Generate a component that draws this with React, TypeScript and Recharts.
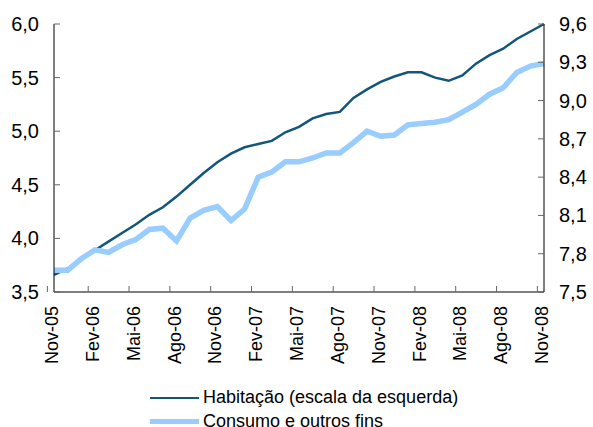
import React from "react";
import { LineChart, Line, XAxis, YAxis, Legend } from "recharts";

const months: string[] = [
  "Nov-05", "Dez-05", "Jan-06", "Fev-06", "Mar-06", "Abr-06", "Mai-06", "Jun-06", "Jul-06",
  "Ago-06", "Set-06", "Out-06", "Nov-06", "Dez-06", "Jan-07", "Fev-07", "Mar-07", "Abr-07",
  "Mai-07", "Jun-07", "Jul-07", "Ago-07", "Set-07", "Out-07", "Nov-07", "Dez-07", "Jan-08",
  "Fev-08", "Mar-08", "Abr-08", "Mai-08", "Jun-08", "Jul-08", "Ago-08", "Set-08", "Out-08", "Nov-08",
];

const habitacao: number[] = [
  3.66, 3.72, 3.81, 3.89, 3.97, 4.05, 4.13, 4.22, 4.29, 4.39, 4.5, 4.61, 4.71, 4.79, 4.85,
  4.88, 4.91, 4.99, 5.04, 5.12, 5.16, 5.18, 5.31, 5.39, 5.46, 5.51, 5.55, 5.55, 5.5, 5.47,
  5.52, 5.63, 5.71, 5.77, 5.86, 5.93, 6.0,
];

const consumo: number[] = [
  7.67, 7.67, 7.76, 7.83, 7.81, 7.87, 7.91, 7.99, 8.0, 7.9, 8.08, 8.14, 8.17, 8.06, 8.15,
  8.4, 8.44, 8.52, 8.52, 8.55, 8.59, 8.59, 8.67, 8.76, 8.72, 8.73, 8.81, 8.82, 8.83, 8.85,
  8.91, 8.97, 9.05, 9.1, 9.22, 9.27, 9.29,
];

const leftTicks: number[] = [3.5, 4.0, 4.5, 5.0, 5.5, 6.0];
const rightTicks: number[] = [7.5, 7.8, 8.1, 8.4, 8.7, 9.0, 9.3, 9.6];

const seriesNames = ["Habitação (escala da esquerda)", "Consumo e outros fins"];

const data = months.map((m, i) => ({ month: m, hab: habitacao[i], con: consumo[i] }));

const W = 593;
const H = 427;
const PLOT_LEFT = 54;
const PLOT_RIGHT = 544;
const PLOT_TOP = 24;
const PLOT_BOTTOM = 292;
const DARK = "#12567A";
const LIGHT = "#99CCFF";
const FONT = "'Liberation Sans', Arial, sans-serif";

const fmt = (v: number) => v.toFixed(1).replace(".", ",");

const LeftTick = (props: any) => {
  const { y, payload } = props;
  return (
    <g>
      <line x1={PLOT_LEFT} x2={PLOT_LEFT + 6} y1={y} y2={y} stroke="#666" strokeWidth={1} />
      <text x={PLOT_LEFT - 15} y={y} textAnchor="end" dominantBaseline="central" fontSize={20} fontFamily={FONT} fill="#000">
        {fmt(payload.value)}
      </text>
    </g>
  );
};

const RightTick = (props: any) => {
  const { y, payload } = props;
  return (
    <g>
      <line x1={PLOT_RIGHT - 6} x2={PLOT_RIGHT} y1={y} y2={y} stroke="#666" strokeWidth={1} />
      <text x={PLOT_RIGHT + 15} y={y} textAnchor="start" dominantBaseline="central" fontSize={20} fontFamily={FONT} fill="#000">
        {fmt(payload.value)}
      </text>
    </g>
  );
};

const XTick = (props: any) => {
  const { x, payload } = props;
  const bw = (PLOT_RIGHT - PLOT_LEFT) / months.length;
  const tx = x - bw / 2;
  const ly = PLOT_BOTTOM + 14;
  const lx = x - 2;
  return (
    <g>
      <line x1={tx} x2={tx} y1={PLOT_BOTTOM - 6} y2={PLOT_BOTTOM} stroke="#666" strokeWidth={1} />
      <text
        x={lx}
        y={ly}
        transform={`rotate(-90 ${lx} ${ly})`}
        textAnchor="end"
        dominantBaseline="central"
        fontSize={18}
        fontFamily={FONT}
        fill="#000"
      >
        {payload.value}
      </text>
    </g>
  );
};

const LegendContent = () => (
  <div style={{ fontFamily: FONT, fontSize: 18, color: "#000" }}>
    {seriesNames.map((name, i) => (
      <div key={name} style={{ display: "flex", alignItems: "center", height: 23.5, whiteSpace: "nowrap" }}>
        <span
          style={{
            display: "inline-block",
            width: 49,
            height: i === 0 ? 2.5 : 5.5,
            background: i === 0 ? DARK : LIGHT,
            marginRight: 4,
          }}
        />
        <span>{name}</span>
      </div>
    ))}
  </div>
);

export default function App() {
  return (
    <div style={{ position: "absolute", left: 0, top: 0, width: W, height: H, background: "#fff" }}>
      <LineChart width={W} height={H} data={data} margin={{ top: PLOT_TOP, right: 0, bottom: 0, left: 0 }}>
        <XAxis
          dataKey="month"
          interval={2}
          height={H - PLOT_BOTTOM}
          tickLine={false}
          axisLine={{ stroke: "#000", strokeWidth: 1 }}
          tick={<XTick />}
        />
        <YAxis
          yAxisId="left"
          orientation="left"
          width={PLOT_LEFT}
          domain={[3.5, 6.0]}
          ticks={leftTicks}
          tickLine={false}
          axisLine={{ stroke: "#000", strokeWidth: 1 }}
          tick={<LeftTick />}
        />
        <YAxis
          yAxisId="right"
          orientation="right"
          width={W - PLOT_RIGHT}
          domain={[7.5, 9.6]}
          ticks={rightTicks}
          tickLine={false}
          axisLine={{ stroke: "#000", strokeWidth: 1 }}
          tick={<RightTick />}
        />
        <Legend
          layout="horizontal"
          verticalAlign="middle"
          align="center"
          content={<LegendContent />}
          wrapperStyle={{ position: "absolute", left: 150, top: 386, width: 400, height: 48 }}
        />
        <Line
          yAxisId="left"
          dataKey="hab"
          name={seriesNames[0]}
          stroke={DARK}
          strokeWidth={2.5}
          dot={false}
          isAnimationActive={false}
        />
        <Line
          yAxisId="right"
          dataKey="con"
          name={seriesNames[1]}
          stroke={LIGHT}
          strokeWidth={5.5}
          dot={false}
          isAnimationActive={false}
        />
      </LineChart>
    </div>
  );
}
